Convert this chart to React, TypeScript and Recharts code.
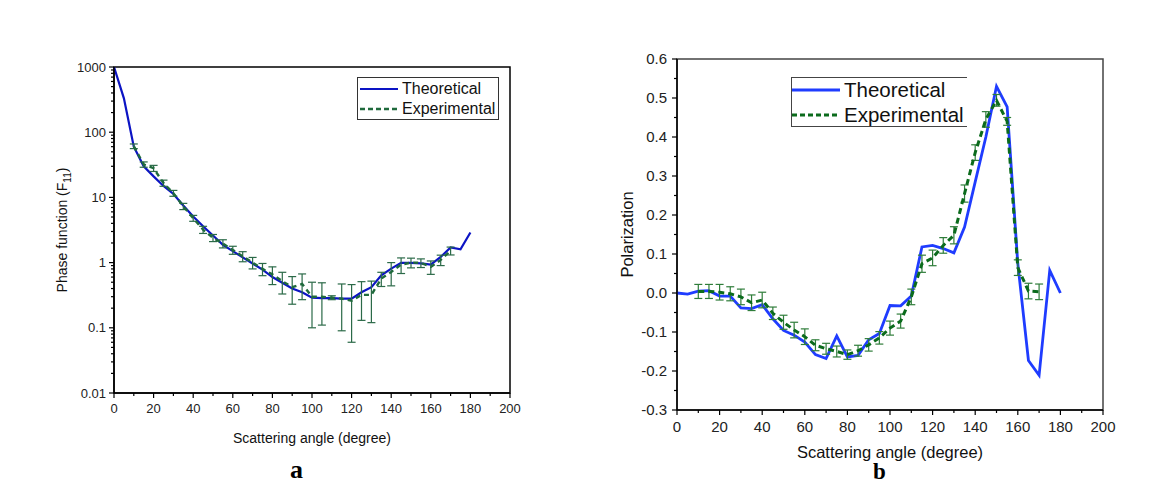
import { LineChart, Line, XAxis, YAxis, ErrorBar, ReferenceArea, Label } from "recharts";

// scattering angles, 5 degree steps
const ANGLES = [
  0, 5, 10, 15, 20, 25, 30, 35, 40, 45, 50, 55, 60, 65, 70, 75, 80, 85, 90,
  95, 100, 105, 110, 115, 120, 125, 130, 135, 140, 145, 150, 155, 160, 165,
  170, 175, 180,
];

// panel a: phase function F11 (log scale)
const F11_THEORY = [
  1000, 330, 60, 30, 21, 15, 11.3, 7.5, 5.1, 3.6, 2.6, 1.87, 1.5, 1.2, 0.97,
  0.78, 0.6, 0.49, 0.4, 0.35, 0.29, 0.286, 0.285, 0.28, 0.28, 0.35, 0.42,
  0.64, 0.81, 0.99, 0.99, 0.97, 0.93, 1.22, 1.71, 1.6, 2.9,
];
const F11_EXP = [
  null, null, 61, 32, 28, 16.6, 11.6, 7.3, 4.8, 3.2, 2.4, 1.96, 1.56, 1.25,
  1.0, 0.8, 0.66, 0.52, 0.42, 0.47, 0.3, 0.3, 0.29, 0.28, 0.26, 0.32, 0.32,
  0.57, 0.72, 0.93, 1.0, 0.99, 0.86, 1.1, 1.52, null, null,
];
const F11_EXP_ERR = [
  null, null, 5, 3, 3, 1.8, 1.2, 0.8, 0.5, 0.4, 0.3, 0.28, 0.22, 0.22, 0.2,
  0.17, 0.2, 0.19, 0.19, 0.2, 0.2, 0.19, 0.02, 0.19, 0.2, 0.19, 0.2, 0.14,
  0.28, 0.25, 0.17, 0.15, 0.2, 0.2, 0.21, null, null,
];

// panel b: polarization
const POL_THEORY = [
  0, -0.003, 0.005, 0.006, -0.008, -0.008, -0.038, -0.04, -0.03, -0.066,
  -0.096, -0.108, -0.126, -0.158, -0.168, -0.11, -0.164, -0.16, -0.12,
  -0.104, -0.032, -0.033, -0.008, 0.118, 0.122, 0.114, 0.103, 0.169, 0.285,
  0.4, 0.53, 0.477, 0.075, -0.173, -0.211, 0.058, 0,
];
const POL_EXP = [
  null, null, 0.004, 0.004, 0.002, -0.002, -0.01, -0.025, -0.018, -0.052,
  -0.075, -0.095, -0.112, -0.134, -0.143, -0.15, -0.158, -0.148, -0.133,
  -0.115, -0.09, -0.072, -0.01, 0.075, 0.09, 0.122, 0.148, 0.255, 0.36,
  0.445, 0.494, 0.44, 0.065, 0.005, 0.003, null, null,
];
const POL_EXP_ERR = [
  null, null, 0.018, 0.018, 0.02, 0.018, 0.02, 0.02, 0.02, 0.016, 0.018,
  0.02, 0.02, 0.014, 0.014, 0.014, 0.012, 0.014, 0.016, 0.016, 0.018, 0.018,
  0.02, 0.022, 0.02, 0.02, 0.022, 0.022, 0.02, 0.02, 0.015, 0.01, 0.02, 0.02,
  0.02, null, null,
];

const X_TICKS = [0, 10, 20, 30, 40, 50, 60, 70, 80, 90, 100, 110, 120, 130, 140, 150, 160, 170, 180, 190, 200];
const F11_MAJOR = [0.01, 0.1, 1, 10, 100, 1000];
const F11_TICKS = F11_MAJOR.flatMap((d, i) =>
  i === F11_MAJOR.length - 1 ? [d] : [d, ...[2, 3, 4, 5, 6, 7, 8, 9].map((k) => Number((k * d).toPrecision(2)))]
);
const POL_TICKS = [
  -0.3, -0.25, -0.2, -0.15, -0.1, -0.05, 0, 0.05, 0.1, 0.15, 0.2, 0.25, 0.3,
  0.35, 0.4, 0.45, 0.5, 0.55, 0.6,
];

const FONT = "'Liberation Sans', Arial, sans-serif";
const SERIF = "'Liberation Serif', 'Times New Roman', serif";

const f11Data = ANGLES.map((a, i) => ({
  angle: a,
  theory: F11_THEORY[i],
  exp: F11_EXP[i] ?? undefined,
  err: F11_EXP_ERR[i] ?? undefined,
}));
const polData = ANGLES.map((a, i) => ({
  angle: a,
  theory: POL_THEORY[i],
  exp: POL_EXP[i] ?? undefined,
  err: POL_EXP_ERR[i] ?? undefined,
}));

function XTick({ x, y, payload, fontSize, gap }: any) {
  const v = payload.value;
  const major = v % 20 === 0;
  return (
    <g>
      <line x1={x} x2={x} y1={y} y2={y + (major ? 5 : 3)} stroke="#000" strokeWidth={1.2} />
      {major && (
        <text x={x} y={y + gap} textAnchor="middle" fontSize={fontSize} fontFamily={FONT} fill="#222">
          {v}
        </text>
      )}
    </g>
  );
}

function LogTick({ x, y, payload }: any) {
  const v = payload.value;
  const major = F11_MAJOR.includes(v);
  return (
    <g>
      <line x1={x} x2={x - (major ? 5 : 3)} y1={y} y2={y} stroke="#000" strokeWidth={1.2} />
      {major && (
        <text x={x - 8} y={y + 4.5} textAnchor="end" fontSize={13} fontFamily={FONT} fill="#222">
          {v}
        </text>
      )}
    </g>
  );
}

function PolTick({ x, y, payload }: any) {
  const v = payload.value;
  const major = Math.abs(v * 10 - Math.round(v * 10)) < 1e-6;
  return (
    <g>
      <line x1={x} x2={x - (major ? 5 : 3)} y1={y} y2={y} stroke="#000" strokeWidth={1.2} />
      {major && (
        <text x={x - 10} y={y + 5} textAnchor="end" fontSize={15} fontFamily={FONT} fill="#222">
          {v.toFixed(1)}
        </text>
      )}
    </g>
  );
}

function LegendRow({ color, dashed, label, width, fontSize, strokeWidth }: any) {
  return (
    <div style={{ display: "flex", alignItems: "center", height: fontSize + 4 }}>
      <svg width={width} height={8} style={{ flex: "none" }}>
        <line
          x1={0}
          x2={width}
          y1={4}
          y2={4}
          stroke={color}
          strokeWidth={strokeWidth}
          strokeDasharray={dashed ? "5 3" : undefined}
        />
      </svg>
      <span style={{ marginLeft: 4, fontSize, color: "#111", whiteSpace: "nowrap" }}>{label}</span>
    </div>
  );
}

export default function App() {
  return (
    <div
      style={{
        position: "absolute",
        left: 0,
        top: 0,
        width: 1174,
        height: 486,
        background: "#fff",
        fontFamily: FONT,
        overflow: "hidden",
      }}
    >
      {/* panel a */}
      <div style={{ position: "absolute", left: 0, top: 0 }}>
        <LineChart width={560} height={486} data={f11Data} margin={{ top: 67, right: 50, left: 54, bottom: 63 }}>
          <XAxis
            dataKey="angle"
            type="number"
            domain={[0, 200]}
            ticks={X_TICKS}
            interval={0}
            tickSize={0}
            tickMargin={0}
            height={30}
            stroke="#000"
            strokeWidth={1.5}
            tick={<XTick fontSize={13} gap={20} />}
          >
            <Label
              content={({ viewBox }: any) => (
                <text x={viewBox.x + viewBox.width / 2} y={viewBox.y + 50} textAnchor="middle" fontSize={14} fontFamily={FONT} fill="#111">
                  Scattering angle (degree)
                </text>
              )}
            />
          </XAxis>
          <YAxis
            type="number"
            scale="log"
            domain={[0.01, 1000]}
            ticks={F11_TICKS}
            interval={0}
            tickSize={0}
            tickMargin={0}
            width={60}
            stroke="#000"
            strokeWidth={1.5}
            allowDataOverflow
            tick={<LogTick />}
          >
            <Label
              content={({ viewBox }: any) => {
                const cx = viewBox.x + viewBox.width - 52;
                const cy = viewBox.y + viewBox.height / 2;
                return (
                  <text transform={`rotate(-90 ${cx} ${cy})`} x={cx} y={cy + 5} textAnchor="middle" fontSize={14} fontFamily={FONT} fill="#111">
                    Phase function (F
                    <tspan fontSize={10} dy={4}>11</tspan>
                    <tspan dy={-4}>)</tspan>
                  </text>
                );
              }}
            />
          </YAxis>
          <ReferenceArea x1={0} x2={200} y1={0.01} y2={1000} fill="none" stroke="#000" strokeWidth={1.5} ifOverflow="visible" />
          <Line
            dataKey="theory"
            stroke="#0c14c4"
            strokeWidth={2.2}
            dot={false}
            isAnimationActive={false}
          />
          <Line
            dataKey="exp"
            stroke="#1f6a3c"
            strokeWidth={2.4}
            strokeDasharray="5 4"
            dot={false}
            isAnimationActive={false}
          >
            <ErrorBar dataKey="err" width={4} stroke="#2b6a48" strokeWidth={1.2} direction="y" />
          </Line>
        </LineChart>
      </div>

      {/* panel b */}
      <div style={{ position: "absolute", left: 570, top: 0 }}>
        <LineChart width={560} height={486} data={polData} margin={{ top: 59, right: 27, left: 47, bottom: 46 }}>
          <XAxis
            dataKey="angle"
            type="number"
            domain={[0, 200]}
            ticks={X_TICKS}
            interval={0}
            tickSize={0}
            tickMargin={0}
            height={30}
            stroke="#000"
            strokeWidth={1.5}
            tick={<XTick fontSize={15} gap={22} />}
          >
            <Label
              content={({ viewBox }: any) => (
                <text x={viewBox.x + viewBox.width / 2} y={viewBox.y + 48} textAnchor="middle" fontSize={16.5} fontFamily={FONT} fill="#111">
                  Scattering angle (degree)
                </text>
              )}
            />
          </XAxis>
          <YAxis
            type="number"
            domain={[-0.3, 0.6]}
            ticks={POL_TICKS}
            interval={0}
            tickSize={0}
            tickMargin={0}
            width={60}
            stroke="#000"
            strokeWidth={1.5}
            tick={<PolTick />}
          >
            <Label
              content={({ viewBox }: any) => {
                const cx = viewBox.x + viewBox.width - 50;
                const cy = viewBox.y + viewBox.height / 2;
                return (
                  <text transform={`rotate(-90 ${cx} ${cy})`} x={cx} y={cy + 6} textAnchor="middle" fontSize={16.5} fontFamily={FONT} fill="#111">
                    Polarization
                  </text>
                );
              }}
            />
          </YAxis>
          <ReferenceArea x1={0} x2={200} y1={-0.3} y2={0.6} fill="none" stroke="#444" strokeWidth={1.5} ifOverflow="visible" />
          <Line
            dataKey="theory"
            stroke="#1f3cff"
            strokeWidth={2.8}
            dot={false}
            isAnimationActive={false}
          />
          <Line
            dataKey="exp"
            stroke="#0b6b1c"
            strokeWidth={3}
            strokeDasharray="6 4"
            dot={false}
            isAnimationActive={false}
          >
            <ErrorBar dataKey="err" width={4} stroke="#2f7d3a" strokeWidth={1.2} direction="y" />
          </Line>
        </LineChart>
      </div>

      {/* legend a */}
      <div
        style={{
          position: "absolute",
          left: 357,
          top: 77,
          width: 142,
          height: 43,
          border: "1px solid #333",
          boxSizing: "border-box",
          padding: "1px 0 0 2px",
        }}
      >
        <LegendRow color="#0c14c4" label="Theoretical" width={38} fontSize={16} strokeWidth={2.2} />
        <LegendRow color="#1f6a3c" dashed label="Experimental" width={38} fontSize={16} strokeWidth={2.4} />
      </div>

      {/* legend b */}
      <div
        style={{
          position: "absolute",
          left: 791,
          top: 77,
          width: 176,
          height: 50,
          borderTop: "1px solid #444",
          borderBottom: "1px solid #444",
          borderLeft: "1px solid #444",
          boxSizing: "border-box",
        }}
      >
        <LegendRow color="#1f3cff" label="Theoretical" width={48} fontSize={20.5} strokeWidth={2.8} />
        <LegendRow color="#0b6b1c" dashed label="Experimental" width={48} fontSize={20.5} strokeWidth={3} />
      </div>

      <div
        style={{
          position: "absolute",
          left: 290,
          top: 460,
          lineHeight: "20px",
          fontFamily: SERIF,
          fontWeight: "bold",
          fontSize: 26,
          color: "#000",
        }}
      >
        a
      </div>
      <div
        style={{
          position: "absolute",
          left: 873,
          top: 463,
          lineHeight: "18px",
          fontFamily: SERIF,
          fontWeight: "bold",
          fontSize: 23,
          color: "#000",
        }}
      >
        b
      </div>
    </div>
  );
}
